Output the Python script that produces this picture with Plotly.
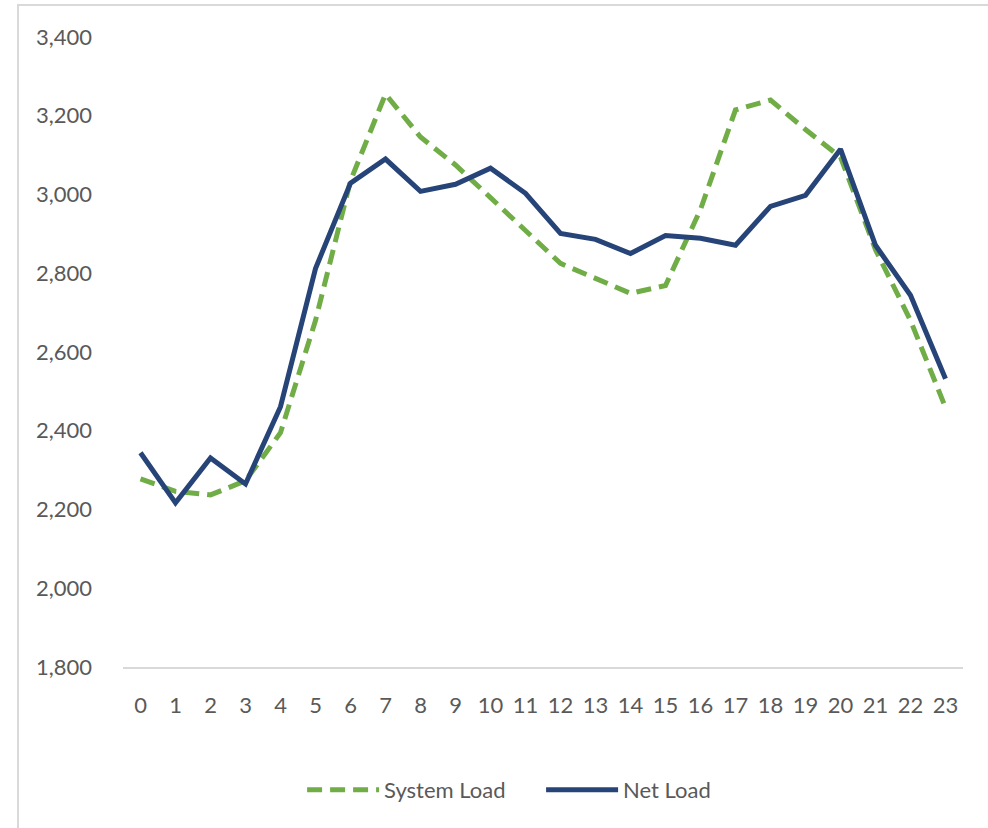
import plotly.graph_objects as go

# Hour of day
hours = list(range(24))

# Hourly load profiles
system_load = [2278, 2246, 2237, 2273, 2395, 2680, 3035, 3255, 3146, 3075,
               2992, 2910, 2825, 2787, 2749, 2769, 2962, 3215, 3240, 3165,
               3095, 2860, 2680, 2459]
net_load = [2344, 2217, 2331, 2265, 2461, 2812, 3029, 3090, 3008, 3026,
            3067, 3003, 2901, 2886, 2850, 2896, 2889, 2871, 2970, 2998,
            3115, 2871, 2744, 2532]

y_ticks = [1800, 2000, 2200, 2400, 2600, 2800, 3000, 3200, 3400]

FONT = "Lato"
TEXT = "#595959"

fig = go.Figure()
fig.add_trace(go.Scatter(
    x=hours, y=system_load, name="System Load", mode="lines",
    line=dict(color="#70AD47", width=5, dash="15px,8px"),
))
fig.add_trace(go.Scatter(
    x=hours, y=net_load, name="Net Load", mode="lines",
    line=dict(color="#264478", width=5),
))

# Light outer frame around the chart area
fig.add_shape(
    type="rect", xref="paper", yref="paper",
    x0=-0.125, x1=1.04, y0=-0.27, y1=1.0508,
    line=dict(color="#D9D9D9", width=2), fillcolor="rgba(0,0,0,0)",
    layer="below",
)

fig.update_layout(
    width=988, height=828,
    margin=dict(l=123, r=25, t=37, b=161),
    paper_bgcolor="white", plot_bgcolor="white",
    font=dict(family=FONT, size=22, color=TEXT),
    showlegend=True,
    legend=dict(
        orientation="h", x=0.2132, xanchor="left", y=-0.195, yanchor="middle",
        itemwidth=72, entrywidth=152, entrywidthmode="pixels",
        font=dict(family=FONT, size=22, color=TEXT),
        traceorder="normal",
    ),
    xaxis=dict(
        range=[-0.5, 23.5], tickmode="array", tickvals=hours,
        ticktext=[str(h) for h in hours],
        showgrid=False, zeroline=False,
        showline=True, linecolor="#D9D9D9", linewidth=2,
        ticks="", ticklabelstandoff=18,
        tickfont=dict(family=FONT, size=22, color=TEXT),
        fixedrange=True,
    ),
    yaxis=dict(
        range=[1800, 3400], tickmode="array", tickvals=y_ticks,
        ticktext=[f"{v:,}" for v in y_ticks],
        showgrid=False, zeroline=False, showline=False,
        ticks="", ticklabelstandoff=30,
        tickfont=dict(family=FONT, size=22, color=TEXT),
        fixedrange=True,
    ),
)

fig.write_html("out.html")
